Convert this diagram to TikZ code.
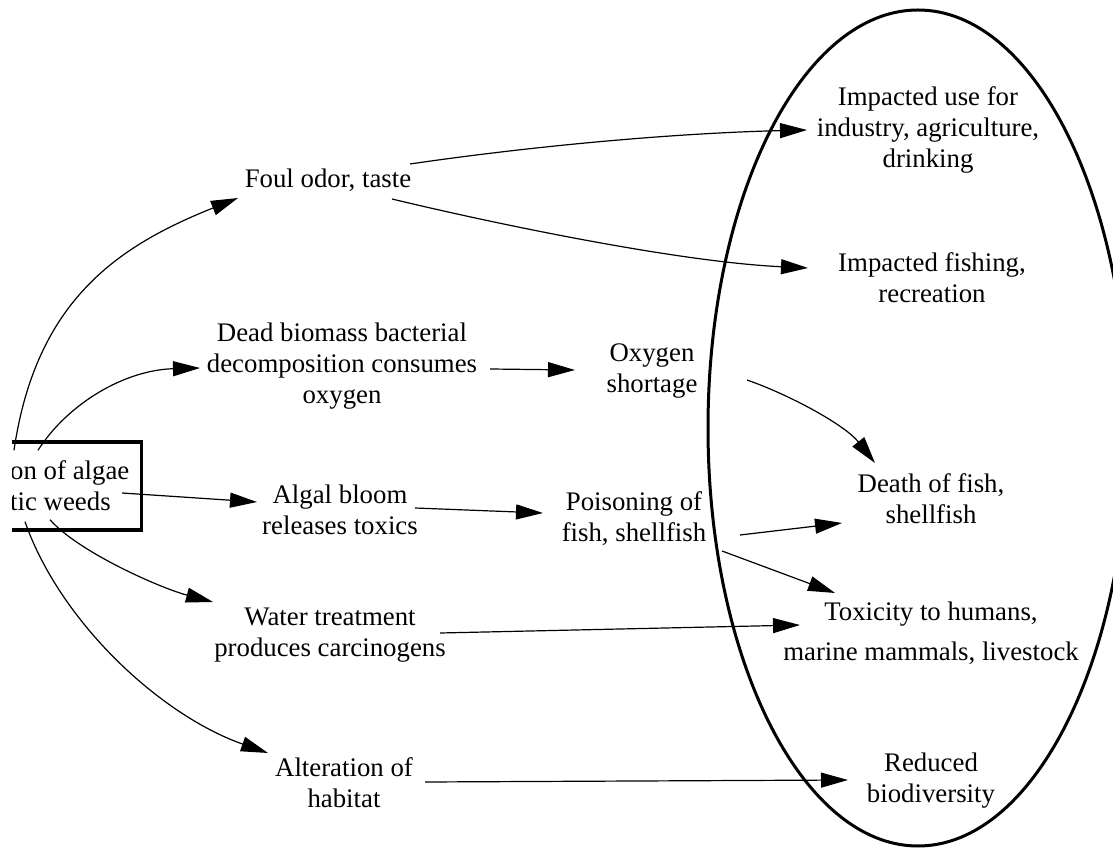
\documentclass[tikz,border=0pt]{standalone}
\usepackage{fontspec}
\setmainfont{Liberation Serif}
\usetikzlibrary{arrows.meta,calc}
\begin{document}
\begin{tikzpicture}[x=0.5pt,y=-0.5pt,
  every node/.style={font=\fontsize{13.4pt}{15.5pt}\selectfont, inner sep=0pt, align=center},
  link/.style={line width=0.6pt, -{Triangle[length=13.5pt,width=7.5pt]}},
  sourcebox/.style={draw, line width=1.7pt, anchor=east, inner xsep=6pt, inner ysep=0pt,
    minimum height=44pt, align=left}]
\useasboundingbox (0,0) rectangle (1113,849);
\clip (12,0) rectangle (1113,849);

% outcome region
\draw[line width=1.5pt] (918,428) ellipse [x radius=105pt, y radius=209pt];

% source box
\node[sourcebox] (src) at (143,486) {on of algae\\tic weeds};

% direct effects
\node (foul)   at (328,180) {Foul odor, taste};
\node (dead)   at (342,366) {Dead biomass bacterial\\decomposition consumes\\oxygen};
\node (algal)  at (340,510) {Algal bloom\\releases toxics};
\node (water)  at (330,635) {Water treatment\\produces carcinogens};
\node (alter)  at (344,783) {Alteration of\\habitat};

% intermediate effects
\node (oxy)    at (652,371) {Oxygen\\shortage};
\node (poison) at (634,519) {Poisoning of\\fish, shellfish};

% outcomes
\node (use)     at (928,130) {Impacted use for\\industry, agriculture,\\drinking};
\node (fishing) at (932,278) {Impacted fishing,\\recreation};
\node (death)   at (931,499) {Death of fish,\\shellfish};
\node (toxic)   at (931,633) {Toxicity to humans,\\[4.5pt]marine mammals, livestock};
\node (reduced) at (931,781) {Reduced\\biodiversity};

% from the source
\draw[link] ([shift={(-129,10)}]src.north east) .. controls +(22,-150) and +(-120,48) .. ([shift={(-90,18)}]foul.center);
\draw[link] ([shift={(-105,10)}]src.north east) .. controls +(30,-47) and +(-75,2) .. ([shift={(-142,2)}]dead.center);
\draw[link] ([shift={(-21,7)}]src.east) -- ([shift={(-83,-8)}]algal.center);
\draw[link] ([shift={(-93,-12)}]src.south east) .. controls +(28,32) and +(-53,-14) .. ([shift={(-117,-33)}]water.center);
\draw[link] ([shift={(-118,-10)}]src.south east) .. controls +(35,100) and +(-108,-38) .. ([shift={(-76,-30)}]alter.center);

% onward links
\draw[link] ([shift={(82,-16)}]foul.center) .. controls +(130,-19) and +(-127,3) .. ([shift={(-121,0)}]use.center);
\draw[link] ([shift={(64,19)}]foul.center) .. controls +(108,26) and +(-128,-6) .. ([shift={(-124,-10)}]fishing.center);
\draw[link] ([shift={(148,3)}]dead.center) -- ([shift={(-77,-1)}]oxy.center);
\draw[link] ([shift={(95,9)}]oxy.center) .. controls +(43,15) and +(-30,-38) .. ([shift={(-56,-36)}]death.center);
\draw[link] ([shift={(75,-2)}]algal.center) -- ([shift={(-91,-6)}]poison.center);
\draw[link] ([shift={(106,16)}]poison.center) -- ([shift={(-89,24)}]death.center);
\draw[link] ([shift={(88,32)}]poison.center) -- ([shift={(-96,-40)}]toxic.center);
\draw[link] ([shift={(110,-2)}]water.center) -- ([shift={(-131,-8)}]toxic.center);
\draw[link] ([shift={(81,-1)}]alter.center) -- ([shift={(-83,-1)}]reduced.center);
\end{tikzpicture}
\end{document}
